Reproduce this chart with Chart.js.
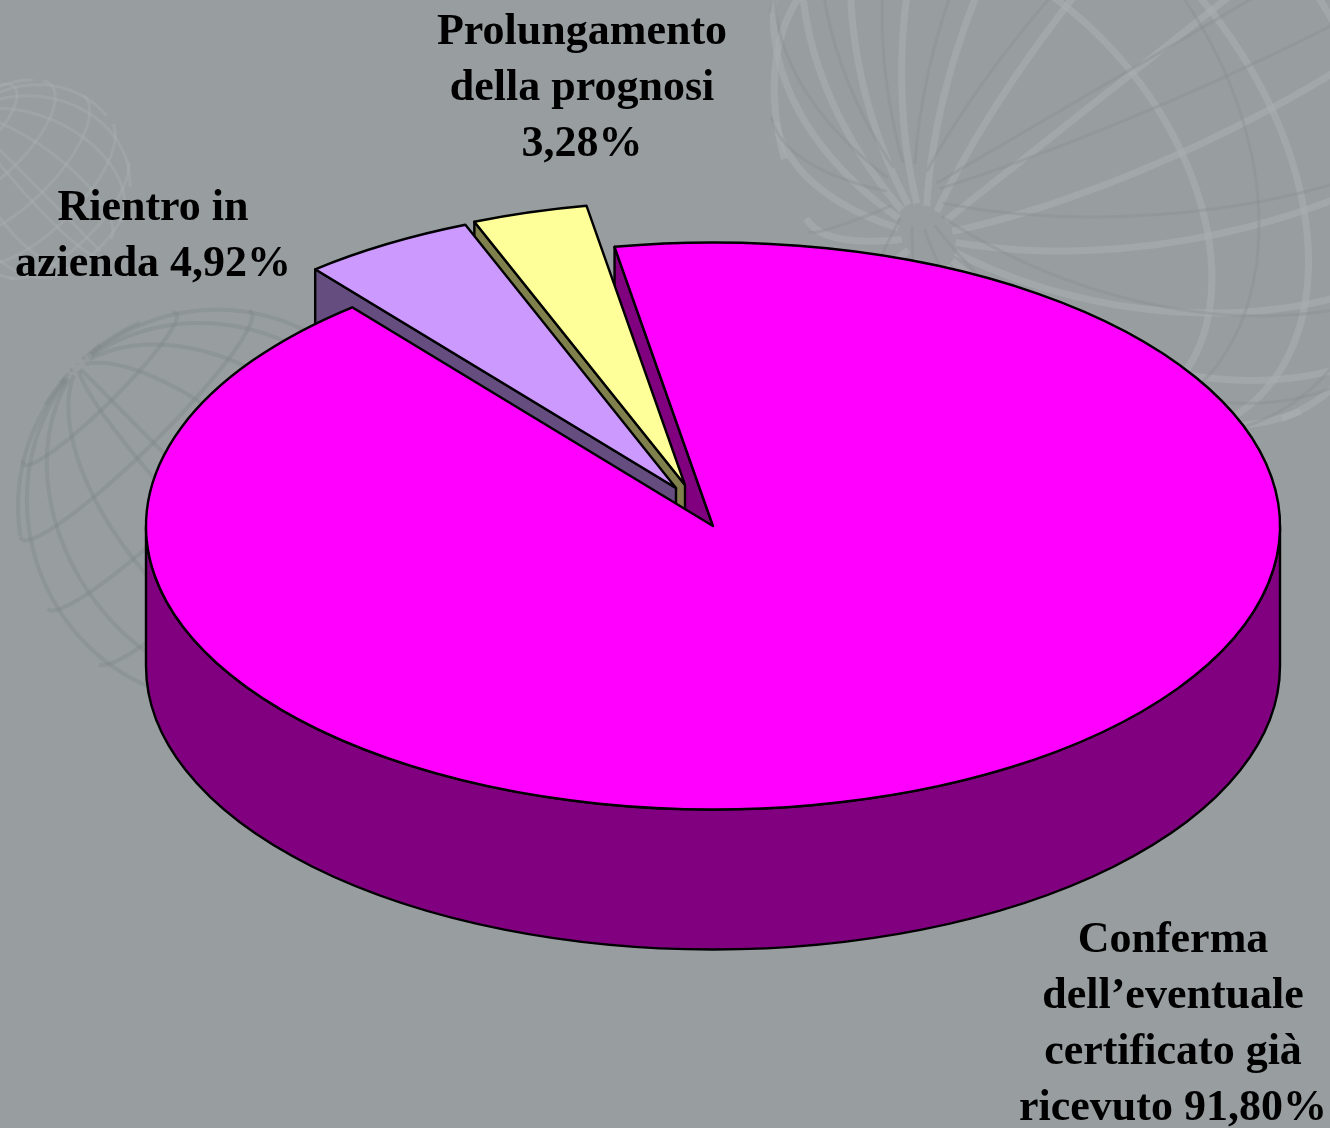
<!DOCTYPE html>
<html lang="it">
<head>
<meta charset="utf-8">
<title>Grafico</title>
<style>
  html, body { margin: 0; padding: 0; background: #989ea0; }
  canvas { display: block; }
</style>
<script src="https://cdn.jsdelivr.net/npm/chart.js@4"></script>
</head>
<body>
<canvas id="pieChart" width="1330" height="1128"></canvas>
<script>
const categories = ['Conferma dell’eventuale certificato già ricevuto', 'Rientro in azienda', 'Prolungamento della prognosi'];
const values = [91.80, 4.92, 3.28];
const labelLines = [
  ['Conferma', 'dell’eventuale', 'certificato già', 'ricevuto 91,80%'],
  ['Rientro in', 'azienda 4,92%'],
  ['Prolungamento', 'della prognosi', '3,28%'],
];
const topColors = ['#ff00ff', '#cc99ff', '#ffff99'];
const wallColors = ['#800080', '#664d80', '#80804d'];

const TILT = 0.5;
const DEPTH = 140;
const LINE = '#000';
const LINE_WIDTH = 2.4;

// painter's order: back wedges first, big slice on top
const drawOrder = [2, 1, 0];
// pull-out of each wedge, in screen pixels (the library's own offset also resizes the wedge)
const explode = [[0, 0], [-37, -38], [-28, -41]];
const labelAnchors = [[1173, 952], [153, 220], [582, 44]];

function strokeStyle(ctx) {
  ctx.strokeStyle = LINE;
  ctx.lineWidth = LINE_WIDTH;
  ctx.lineJoin = 'round';
}

function drawWalls(ctx, arc, color, shift) {
  const r = arc.outerRadius;
  const x = arc.x + shift[0];
  const y = arc.y + shift[1];
  ctx.fillStyle = color;
  strokeStyle(ctx);

  const from = Math.max(arc.startAngle, 0);
  const to = Math.min(arc.endAngle, Math.PI);
  if (from < to) {
    ctx.beginPath();
    ctx.ellipse(x, y, r, r * TILT, 0, from, to);
    ctx.ellipse(x, y + DEPTH, r, r * TILT, 0, to, from, true);
    ctx.closePath();
    ctx.fill();
    ctx.stroke();
  }

  const rimX = x + r * Math.cos(arc.startAngle);
  const rimY = y + r * TILT * Math.sin(arc.startAngle);
  ctx.beginPath();
  ctx.moveTo(x, y);
  ctx.lineTo(rimX, rimY);
  ctx.lineTo(rimX, rimY + DEPTH);
  ctx.lineTo(x, y + DEPTH);
  ctx.closePath();
  ctx.fill();
  ctx.stroke();
}

function drawTop(ctx, arc, shift) {
  ctx.save();
  ctx.translate(arc.x + shift[0], arc.y + shift[1]);
  ctx.scale(1, TILT);
  ctx.translate(-arc.x, -arc.y);
  arc.draw(ctx);
  ctx.restore();

  // outline built squashed, stroked unsquashed so the line stays even
  ctx.save();
  ctx.translate(arc.x + shift[0], arc.y + shift[1]);
  ctx.scale(1, TILT);
  ctx.beginPath();
  ctx.moveTo(0, 0);
  ctx.arc(0, 0, arc.outerRadius, arc.startAngle, arc.endAngle);
  ctx.closePath();
  ctx.restore();
  strokeStyle(ctx);
  ctx.stroke();
}

function drawGlobe(ctx, cx, cy, r, poleTilt, roll, color, width, latStep, lonStep, latMax) {
  const project = (lat, lon) => {
    const px = Math.cos(lat) * Math.sin(lon);
    const py = Math.sin(lat);
    const pz = Math.cos(lat) * Math.cos(lon);
    const y2 = py * Math.cos(poleTilt) - pz * Math.sin(poleTilt);
    const z2 = py * Math.sin(poleTilt) + pz * Math.cos(poleTilt);
    return {
      x: cx + r * (px * Math.cos(roll) - y2 * Math.sin(roll)),
      y: cy - r * (px * Math.sin(roll) + y2 * Math.cos(roll)),
      front: z2 >= 0,
    };
  };
  const trace = (pointAt) => {
    ctx.beginPath();
    let pen = false;
    for (let i = 0; i <= 120; i++) {
      const p = pointAt(i / 120);
      if (!p.front) { pen = false; continue; }
      if (pen) ctx.lineTo(p.x, p.y); else ctx.moveTo(p.x, p.y);
      pen = true;
    }
    ctx.stroke();
  };
  ctx.strokeStyle = color;
  ctx.lineWidth = width;
  for (let lat = -75; lat <= latMax; lat += latStep) {
    trace((t) => project(lat * Math.PI / 180, t * 2 * Math.PI));
  }
  for (let lon = 0; lon < 360; lon += lonStep) {
    trace((t) => project((t - 0.5) * 0.94 * Math.PI, lon * Math.PI / 180));
  }
}

const pie3d = {
  id: 'pie3d',
  beforeDraw(chart) {
    const ctx = chart.ctx;
    ctx.save();
    ctx.fillStyle = '#989ea0';
    ctx.fillRect(0, 0, chart.width, chart.height);
    // faint wireframe globes of the slide background
    drawGlobe(ctx, 1155, 55, 385, 0.71, 2.24, 'rgba(168,174,176,0.6)', 7, 15, 20, 50);
    drawGlobe(ctx, 1147, 60, 380, 0.78, 2.1, 'rgba(134,140,142,0.35)', 3, 22, 25, 50);
    drawGlobe(ctx, 30, 180, 100, 0.4, 0.78, 'rgba(170,176,178,0.4)', 3, 22, 22, 75);
    drawGlobe(ctx, 215, 505, 197, 0.15, 0.78, 'rgba(128,134,136,0.4)', 4, 22, 22, 75);
    ctx.restore();
  },
  beforeDatasetDraw(chart, args) {
    const ctx = chart.ctx;
    const arcs = args.meta.data;
    ctx.save();
    drawWalls(ctx, arcs[0], wallColors[0], explode[0]);
    drawOrder.forEach((i) => {
      if (i !== 0) drawWalls(ctx, arcs[i], wallColors[i], explode[i]);
      drawTop(ctx, arcs[i], explode[i]);
    });
    ctx.restore();
    return false;
  },
  afterDraw(chart) {
    const ctx = chart.ctx;
    ctx.save();
    ctx.fillStyle = '#000';
    ctx.font = 'bold 44px "Liberation Serif", serif';
    ctx.textAlign = 'center';
    ctx.textBaseline = 'alphabetic';
    labelLines.forEach((lines, i) => {
      lines.forEach((line, j) => {
        ctx.fillText(line, labelAnchors[i][0], labelAnchors[i][1] + j * 56);
      });
    });
    ctx.restore();
  },
};

new Chart(document.getElementById('pieChart'), {
  type: 'pie',
  data: {
    labels: categories,
    datasets: [{
      data: values,
      backgroundColor: topColors,
      borderWidth: 0,
    }],
  },
  options: {
    responsive: false,
    animation: false,
    rotation: -10,
    radius: 567,
    layout: { padding: { left: 96, bottom: 76 } },
    plugins: { legend: { display: false }, tooltip: { enabled: false } },
  },
  plugins: [pie3d],
});
</script>
</body>
</html>
